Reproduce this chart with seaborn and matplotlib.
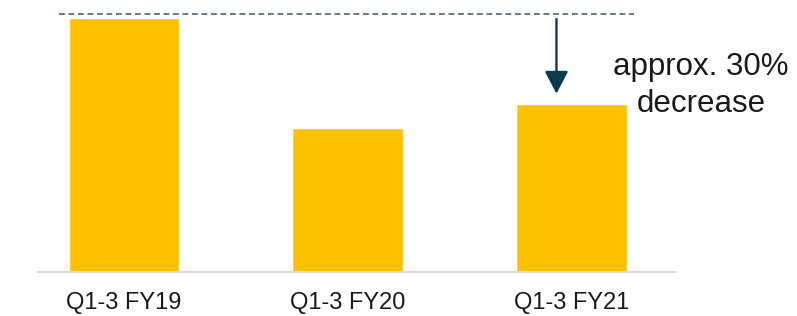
import matplotlib
matplotlib.use("Agg")
import matplotlib.pyplot as plt
import seaborn as sns
import pandas as pd

categories = ["Q1-3 FY19", "Q1-3 FY20", "Q1-3 FY21"]
values = [100, 56.7, 66.1]
reference_level = 101.6
annotation_text = "approx. 30%\ndecrease"

sns.set_theme(style="white")
plt.rcParams['font.family'] = ['Liberation Sans', 'DejaVu Sans']

df = pd.DataFrame({"period": categories, "value": values})

fig = plt.figure(figsize=(7.97, 3.16), dpi=100)
W, H = 797, 316
ax = fig.add_axes([38 / W, 44 / H, (675 - 38) / W, 272 / H])

sns.barplot(data=df, x="period", y="value", color="#FFC000", saturation=1,
            width=0.495, ax=ax)

ax.set_xlim(-0.384, 2.464)
ax.set_ylim(0, 107.1)
ax.set_xlabel("")
ax.set_ylabel("")
ax.set_yticks([])
for s in ["top", "right", "left"]:
    ax.spines[s].set_visible(False)
ax.spines["bottom"].set_color("#D9D9D9")
ax.spines["bottom"].set_linewidth(1.5)
ax.tick_params(axis="x", length=0, pad=14.5, labelsize=17, labelcolor="#1a1a1a")

# dashed reference line at FY19 level
ax.plot([-0.29, 2.28], [reference_level, reference_level], linestyle=(0, (3.5, 2.2)),
        color="#4F6272", linewidth=1.2, clip_on=False)

# arrow
ax.annotate("", xy=(1.934, 70.2), xytext=(1.934, 99.6),
            arrowprops=dict(arrowstyle="-|>,head_width=0.6,head_length=1.15",
                            color="#0E3A4F", linewidth=1.7, shrinkA=0, shrinkB=0))

ax.text(2.58, 73.4, annotation_text, ha="center", va="center", fontsize=22.5,
        color="#1a1a1a", linespacing=1.28, clip_on=False)

fig.savefig("out.png", dpi=100)
